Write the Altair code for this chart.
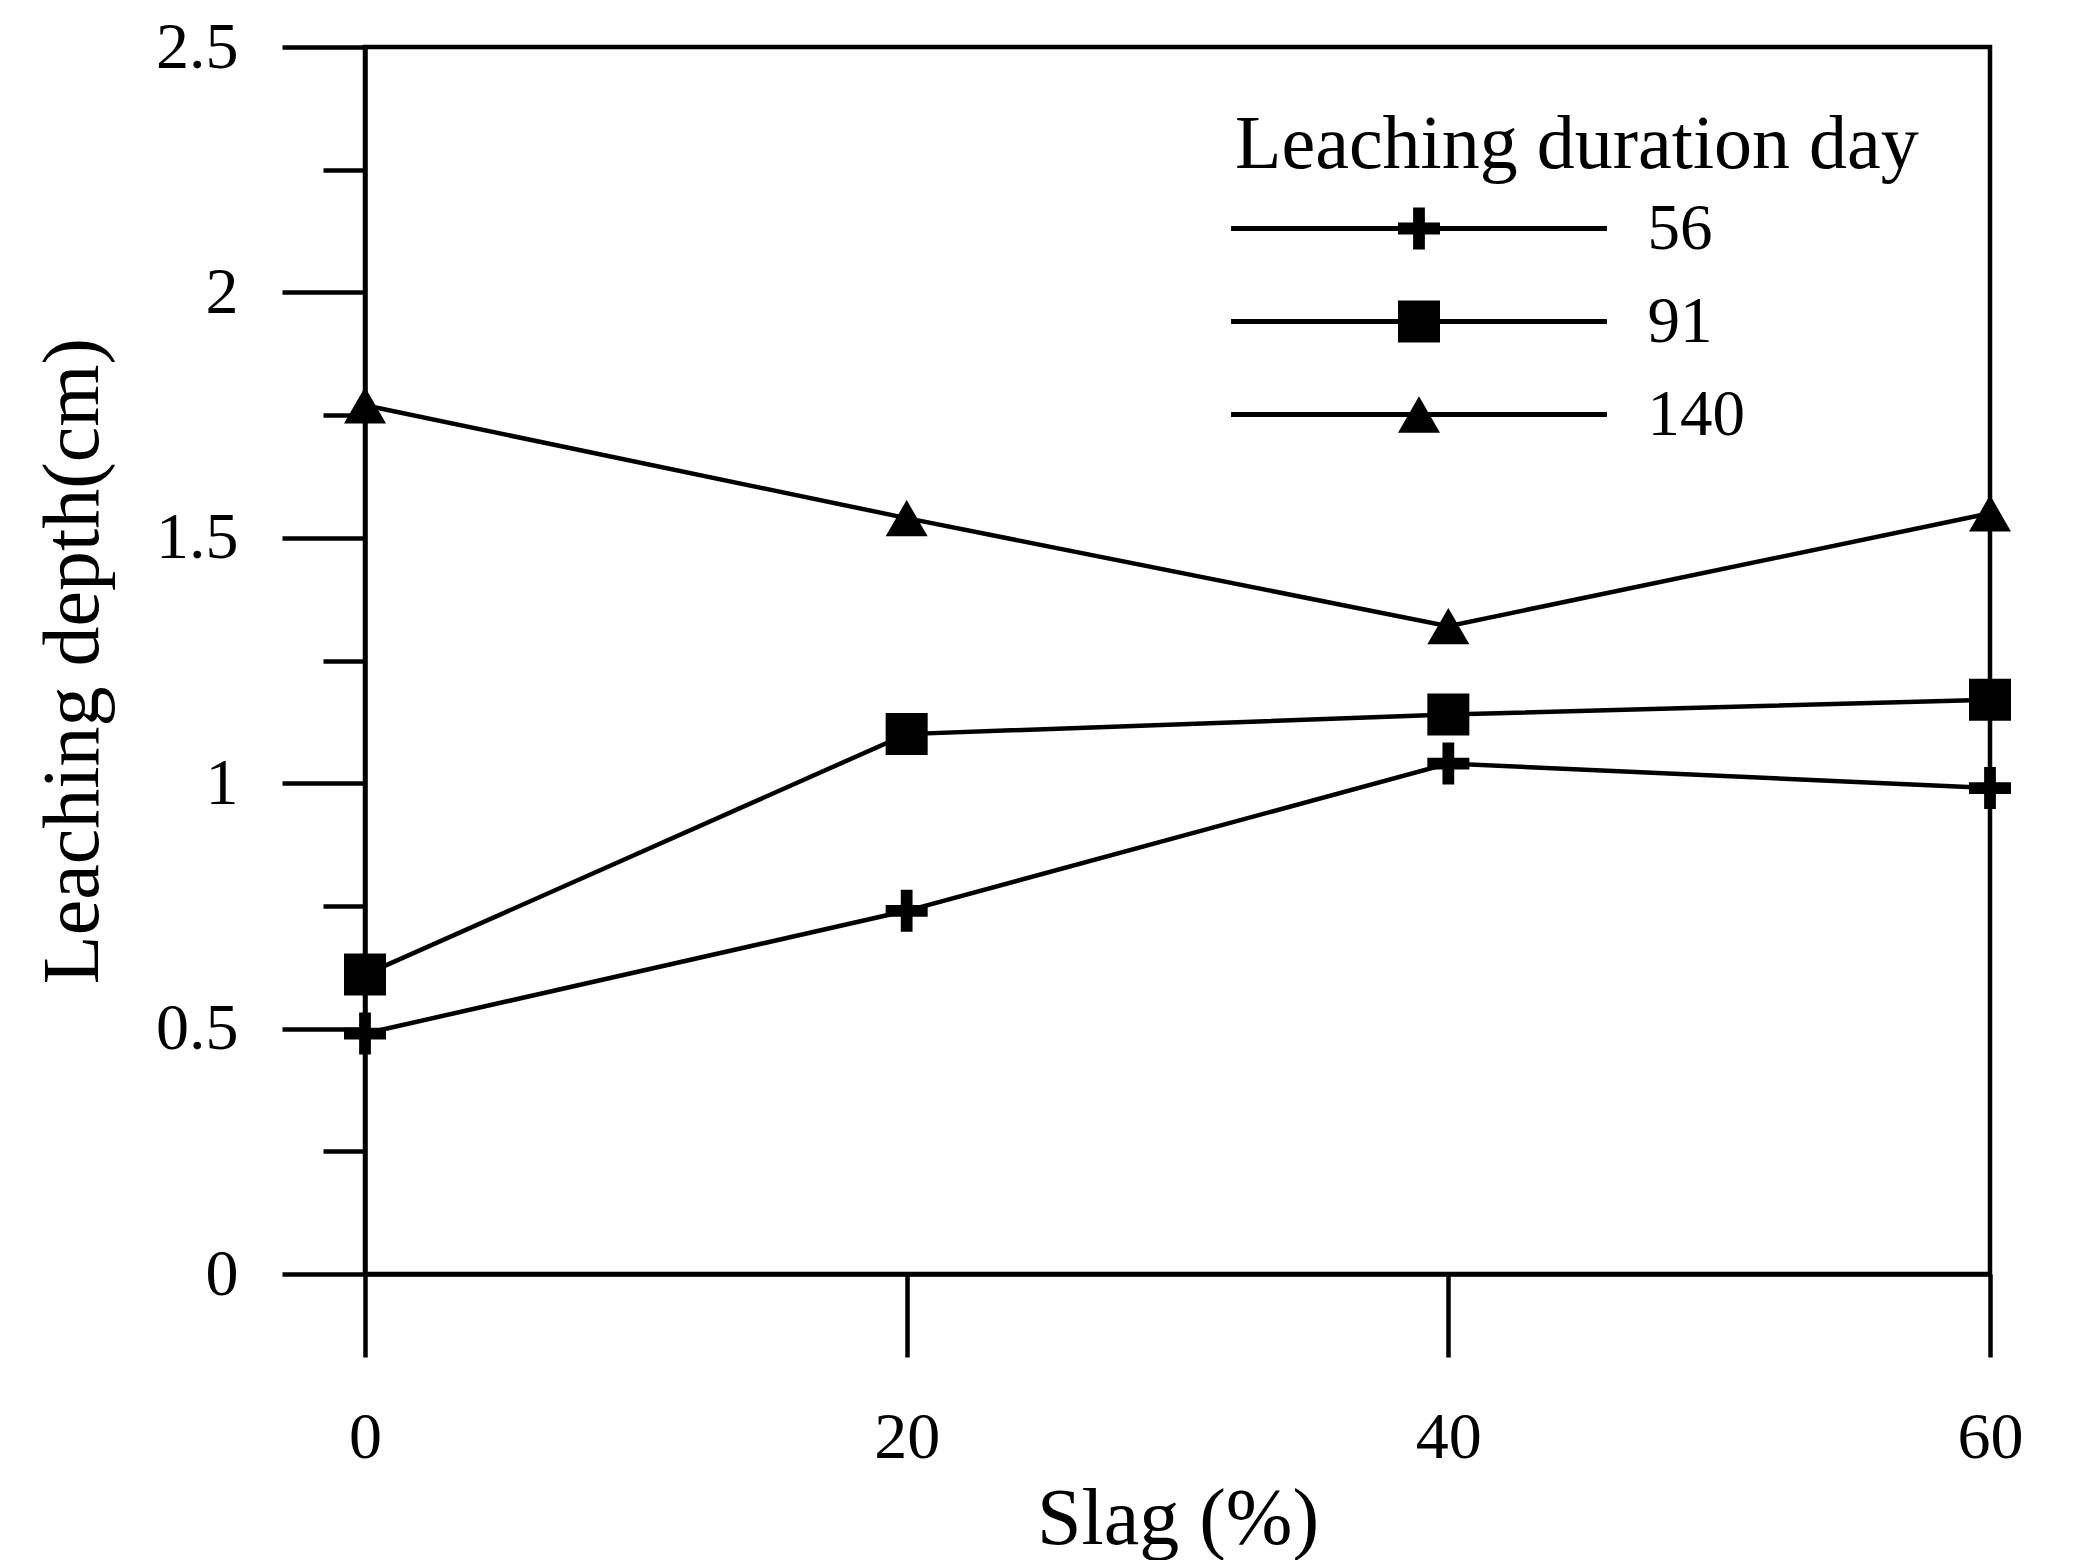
import altair as alt
import pandas as pd

slag = [0, 20, 40, 60]
days = ["56", "91", "140"]
depth_56 = [0.49, 0.74, 1.04, 0.99]
depth_91 = [0.61, 1.10, 1.14, 1.17]
depth_140 = [1.77, 1.54, 1.32, 1.55]
y_major = [0, 0.5, 1, 1.5, 2, 2.5]
y_minor = [0.25, 0.75, 1.25, 1.75, 2.25]
x_ticks = [0, 20, 40, 60]

rows = []
for d, vals in zip(days, [depth_56, depth_91, depth_140]):
    for s, v in zip(slag, vals):
        rows.append({"slag": s, "depth": v, "day": d})
df = pd.DataFrame(rows)

FONT = "Liberation Serif"
W, H = 1625, 1227
LW = 4.5

cross = "M-1,-0.28H1V0.28H-1Z M-0.28,-1H0.28V1H-0.28Z"
seg = "M-8.95,-0.115H8.95V0.115H-8.95Z "
leg_cross = seg + cross
leg_square = seg + "M-1,-1H1V1H-1Z"
leg_tri = seg + "M0,-0.866L1,0.866H-1Z"

xscale = alt.Scale(domain=[0, 60], nice=False, zero=False)
yscale = alt.Scale(domain=[0, 2.5], nice=False, zero=False)

x_axis = alt.Axis(values=x_ticks, tickSize=83, labelPadding=48, labelFontSize=66,
                  labelFlush=False, labelOverlap=False,
                  title="Slag (%)", titleFontSize=80, titleBaseline="alphabetic",
                  titleX=W / 2, titleY=269, titleAlign="center")
y_axis = alt.Axis(values=y_major, format="~g", tickSize=83, labelPadding=44, labelFontSize=66,
                  labelFlush=False, labelOverlap=False,
                  title="Leaching depth(cm)", titleFontSize=80, titleBaseline="alphabetic",
                  titleX=-268, titleY=H / 2, titleAlign="center", titleAngle=-90)
y_minor_axis = alt.Axis(values=y_minor, tickSize=42, labels=False, domain=False,
                        title=None, orient="left")

base = alt.Chart(df)

lines = base.mark_line(color="black", strokeWidth=LW).encode(
    x=alt.X("slag:Q", scale=xscale, axis=x_axis),
    y=alt.Y("depth:Q", scale=yscale, axis=y_axis),
    detail="day:N",
    order="slag:Q",
)

points = base.mark_point(filled=True, color="black", opacity=1, size=1764, strokeWidth=0).encode(
    x=alt.X("slag:Q", scale=xscale, axis=x_axis),
    y=alt.Y("depth:Q", scale=yscale, axis=y_minor_axis),
    shape=alt.Shape("day:N", scale=alt.Scale(domain=days, range=[cross, "square", "triangle-up"]),
                    legend=None),
)

legend_layer = base.transform_filter("datum.slag < -1").mark_point(
    filled=True, color="black", size=1764, strokeWidth=0).encode(
    x=alt.X("slag:Q", scale=xscale, axis=x_axis),
    y=alt.Y("depth:Q", scale=yscale, axis=None),
    shape=alt.Shape("day:N", sort=days,
                    scale=alt.Scale(domain=days, range=[leg_cross, leg_square, leg_tri]),
                    legend=alt.Legend(
                        title="Leaching duration day", orient="none", legendX=870, legendY=61,
                        padding=0, titleFontSize=76, titleFont=FONT, titleFontWeight="normal",
                        titleColor="black", titlePadding=12, titleLimit=3000,
                        labelFont=FONT, labelFontSize=65, labelLimit=1000,
                        labelColor="black", labelOffset=196, symbolOffset=151.5,
                        symbolSize=1764, symbolStrokeWidth=0, symbolFillColor="black",
                        symbolOpacity=1, rowPadding=27)),
)

chart = alt.layer(lines, points, legend_layer).resolve_scale(
    shape="independent"
).resolve_axis(y="independent").properties(
    width=W, height=H,
    autosize=alt.AutoSizeParams(type="none"),
    padding={"left": 357, "top": 39, "right": 88, "bottom": 286},
    background="white",
).configure_axis(
    labelFont=FONT, titleFont=FONT, titleFontWeight="normal", labelColor="black",
    titleColor="black", domainColor="black", tickColor="black", domainWidth=LW,
    tickWidth=LW, grid=False,
).configure_view(stroke="black", strokeWidth=LW)

chart.save("out.html", embed_options={"renderer": "svg", "actions": False})
